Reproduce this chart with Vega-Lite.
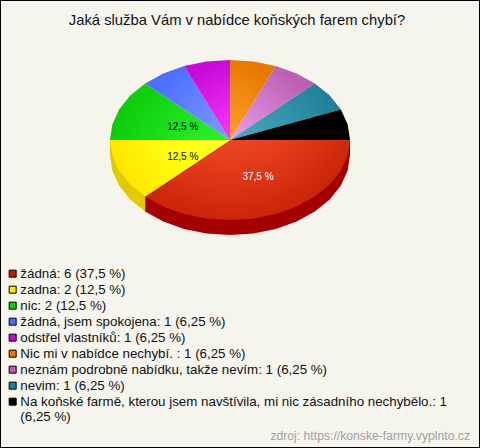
{"$schema":"https://vega.github.io/schema/vega-lite/v6.json","width":480,"height":448,"padding":0,"autosize":{"type":"none"},"background":"#f5f5ee","config":{"font":"Liberation Sans","view":{"stroke":"#000000","strokeWidth":2,"fill":"#f5f5ee"}},
"title":{"text":"Jaká služba Vám v nabídce koňských farem chybí?","fontSize":14.8,"fontWeight":"normal","font":"Liberation Sans","color":"#111111","anchor":"middle","dx":-3,"offset":-28},
"datasets":{
"slices":[{"label":"žádná: 6 (37,5 %)","count":6,"x":0,"y":0},{"label":"zadna: 2 (12,5 %)","count":2,"x":0,"y":0},{"label":"nic: 2 (12,5 %)","count":2,"x":0,"y":0},{"label":"žádná, jsem spokojena: 1 (6,25 %)","count":1,"x":0,"y":0},{"label":"odstřel vlastníků: 1 (6,25 %)","count":1,"x":0,"y":0},{"label":"Nic mi v nabídce nechybí. : 1 (6,25 %)","count":1,"x":0,"y":0},{"label":"neznám podrobně nabídku, takže nevím: 1 (6,25 %)","count":1,"x":0,"y":0},{"label":"nevim: 1 (6,25 %)","count":1,"x":0,"y":0},{"label":"Na koňské farmě, kterou jsem navštívila, mi nic zásadního nechybělo.: 1 (6,25 %)","count":1,"x":0,"y":0}],
"pctLabels":[{"text":"37,5 %","x":0.233,"y":0.46,"tone":"w"},{"text":"12,5 %","x":-0.394,"y":-0.16,"tone":"b"},{"text":"12,5 %","x":-0.394,"y":0.213,"tone":"b"}],
"source":[{"text":"zdroj: https://konske-farmy.vyplnto.cz","x":2.0,"y":3.7}],
"rimRed":[{"o":0,"x":1,"y":0},{"o":1,"x":1,"y":0.1875},{"o":2,"x":0.9808,"y":0.3826},{"o":3,"x":0.9239,"y":0.5702},{"o":4,"x":0.8315,"y":0.7431},{"o":5,"x":0.7071,"y":0.8946},{"o":6,"x":0.5556,"y":1.019},{"o":7,"x":0.3827,"y":1.1114},{"o":8,"x":0.1951,"y":1.1683},{"o":9,"x":0,"y":1.1875},{"o":10,"x":-0.1951,"y":1.1683},{"o":11,"x":-0.3827,"y":1.1114},{"o":12,"x":-0.5556,"y":1.019},{"o":13,"x":-0.7071,"y":0.8946},{"o":14,"x":-0.7071,"y":0.7071}],
"rimYellow":[{"o":0,"x":-0.7071,"y":0.7071},{"o":1,"x":-0.7071,"y":0.8946},{"o":2,"x":-0.8315,"y":0.7431},{"o":3,"x":-0.9239,"y":0.5702},{"o":4,"x":-0.9808,"y":0.3826},{"o":5,"x":-1,"y":0.1875},{"o":6,"x":-1,"y":0}],
"red":[{"o":0,"x":0,"y":0},{"o":1,"x":1,"y":0},{"o":2,"x":0.9808,"y":0.1951},{"o":3,"x":0.9239,"y":0.3827},{"o":4,"x":0.8315,"y":0.5556},{"o":5,"x":0.7071,"y":0.7071},{"o":6,"x":0.5556,"y":0.8315},{"o":7,"x":0.3827,"y":0.9239},{"o":8,"x":0.1951,"y":0.9808},{"o":9,"x":0,"y":1},{"o":10,"x":-0.1951,"y":0.9808},{"o":11,"x":-0.3827,"y":0.9239},{"o":12,"x":-0.5556,"y":0.8315},{"o":13,"x":-0.7071,"y":0.7071}],
"yellow":[{"o":0,"x":0,"y":0},{"o":1,"x":-0.7071,"y":0.7071},{"o":2,"x":-0.8315,"y":0.5556},{"o":3,"x":-0.9239,"y":0.3827},{"o":4,"x":-0.9808,"y":0.1951},{"o":5,"x":-1,"y":0}],
"green":[{"o":0,"x":0,"y":0},{"o":1,"x":-1,"y":0},{"o":2,"x":-0.9808,"y":-0.1951},{"o":3,"x":-0.9239,"y":-0.3827},{"o":4,"x":-0.8315,"y":-0.5556},{"o":5,"x":-0.7071,"y":-0.7071}],
"blue":[{"o":0,"x":0,"y":0},{"o":1,"x":-0.7071,"y":-0.7071},{"o":2,"x":-0.5556,"y":-0.8315},{"o":3,"x":-0.3827,"y":-0.9239}],
"magenta":[{"o":0,"x":0,"y":0},{"o":1,"x":-0.3827,"y":-0.9239},{"o":2,"x":-0.1951,"y":-0.9808},{"o":3,"x":0,"y":-1}],
"orange":[{"o":0,"x":0,"y":0},{"o":1,"x":0,"y":-1},{"o":2,"x":0.1951,"y":-0.9808},{"o":3,"x":0.3827,"y":-0.9239}],
"violet":[{"o":0,"x":0,"y":0},{"o":1,"x":0.3827,"y":-0.9239},{"o":2,"x":0.5556,"y":-0.8315},{"o":3,"x":0.7071,"y":-0.7071}],
"teal":[{"o":0,"x":0,"y":0},{"o":1,"x":0.7071,"y":-0.7071},{"o":2,"x":0.8315,"y":-0.5556},{"o":3,"x":0.9239,"y":-0.3827}],
"black":[{"o":0,"x":0,"y":0},{"o":1,"x":0.9239,"y":-0.3827},{"o":2,"x":0.9808,"y":-0.1951},{"o":3,"x":1,"y":0}]
},
"encoding":{
"x":{"field":"x","type":"quantitative","axis":null,"scale":{"domain":[-1.91667,2.08333],"nice":false,"zero":false}},
"y":{"field":"y","type":"quantitative","axis":null,"scale":{"domain":[-1.75,3.85],"nice":false,"zero":false,"reverse":true}}
},
"layer":[
{"data":{"name":"slices"},"mark":{"type":"point","filled":true,"shape":"square","opacity":0},"encoding":{"color":{"field":"label","type":"nominal","scale":{"domain":["žádná: 6 (37,5 %)","zadna: 2 (12,5 %)","nic: 2 (12,5 %)","žádná, jsem spokojena: 1 (6,25 %)","odstřel vlastníků: 1 (6,25 %)","Nic mi v nabídce nechybí. : 1 (6,25 %)","neznám podrobně nabídku, takže nevím: 1 (6,25 %)","nevim: 1 (6,25 %)","Na koňské farmě, kterou jsem navštívila, mi nic zásadního nechybělo.: 1 (6,25 %)"],"range":["#c41a00","#ffe600","#0ccb0c","#4d6eff","#c80ad8","#e87800","#bb5fb5","#1f7f96","#000000"]},"legend":{"orient":"none","legendX":6,"legendY":267,"title":null,"symbolType":"square","symbolSize":49,"symbolOpacity":1,"symbolStrokeColor":"#000000","symbolStrokeWidth":1,"labelFont":"Liberation Sans","labelFontSize":13.33,"labelColor":"#111111","labelLimit":470,"labelOffset":1,"rowPadding":2,"labelExpr":"indexof(datum.label,'nechybělo')>0 ? [substring(datum.label,0,indexof(datum.label,'(')-1), substring(datum.label,indexof(datum.label,'('))] : datum.label"}}}},
{"data":{"name":"rimRed"},"mark":{"type":"line","filled":true,"fill":"#a50000","stroke":null},"encoding":{"order":{"field":"o"}}},
{"data":{"name":"rimYellow"},"mark":{"type":"line","filled":true,"fill":"#e3c900","stroke":null},"encoding":{"order":{"field":"o"}}},
{"data":{"name":"red"},"mark":{"type":"line","filled":true,"stroke":null,"fill":{"gradient":"radial","x1":0.414,"y1":0,"r1":0,"x2":0.414,"y2":0,"r2":0.85,"stops":[{"offset":0,"color":"#ff5f40"},{"offset":0.5,"color":"#e43c1c"},{"offset":1,"color":"#bd1800"}]}},"encoding":{"order":{"field":"o"}}},
{"data":{"name":"yellow"},"mark":{"type":"line","filled":true,"stroke":null,"fill":{"gradient":"radial","x1":1,"y1":0,"r1":0,"x2":1,"y2":0,"r2":1.05,"stops":[{"offset":0,"color":"#ffff33"},{"offset":0.55,"color":"#ffff14"},{"offset":1,"color":"#ffe600"}]}},"encoding":{"order":{"field":"o"}}},
{"data":{"name":"green"},"mark":{"type":"line","filled":true,"stroke":null,"fill":{"gradient":"radial","x1":1,"y1":1,"r1":0,"x2":1,"y2":1,"r2":1.05,"stops":[{"offset":0,"color":"#33ff33"},{"offset":1,"color":"#0ccb0c"}]}},"encoding":{"order":{"field":"o"}}},
{"data":{"name":"blue"},"mark":{"type":"line","filled":true,"stroke":null,"fill":{"gradient":"radial","x1":1,"y1":1,"r1":0,"x2":1,"y2":1,"r2":1.1,"stops":[{"offset":0,"color":"#80a0ff"},{"offset":1,"color":"#4d6eff"}]}},"encoding":{"order":{"field":"o"}}},
{"data":{"name":"magenta"},"mark":{"type":"line","filled":true,"stroke":null,"fill":{"gradient":"radial","x1":1,"y1":1,"r1":0,"x2":1,"y2":1,"r2":1.05,"stops":[{"offset":0,"color":"#ff40ff"},{"offset":1,"color":"#c80ad8"}]}},"encoding":{"order":{"field":"o"}}},
{"data":{"name":"orange"},"mark":{"type":"line","filled":true,"stroke":null,"fill":{"gradient":"radial","x1":0,"y1":1,"r1":0,"x2":0,"y2":1,"r2":1.05,"stops":[{"offset":0,"color":"#ffa833"},{"offset":1,"color":"#e87800"}]}},"encoding":{"order":{"field":"o"}}},
{"data":{"name":"violet"},"mark":{"type":"line","filled":true,"stroke":null,"fill":{"gradient":"radial","x1":0,"y1":1,"r1":0,"x2":0,"y2":1,"r2":1.1,"stops":[{"offset":0,"color":"#eea0ee"},{"offset":1,"color":"#bb5fb5"}]}},"encoding":{"order":{"field":"o"}}},
{"data":{"name":"teal"},"mark":{"type":"line","filled":true,"stroke":null,"fill":{"gradient":"radial","x1":0,"y1":1,"r1":0,"x2":0,"y2":1,"r2":1.1,"stops":[{"offset":0,"color":"#52b5cc"},{"offset":1,"color":"#1f7f96"}]}},"encoding":{"order":{"field":"o"}}},
{"data":{"name":"black"},"mark":{"type":"line","filled":true,"stroke":null,"fill":"#000000"},"encoding":{"order":{"field":"o"}}},
{"data":{"name":"pctLabels"},"mark":{"type":"text","fontSize":10,"font":"Liberation Sans"},"encoding":{"text":{"field":"text"},"color":{"field":"tone","type":"nominal","scale":{"domain":["w","b"],"range":["#ffffff","#111111"]},"legend":null}}},
{"data":{"name":"source"},"mark":{"type":"text","fontSize":12.2,"font":"Liberation Sans","align":"right","color":"#a0a0a0"},"encoding":{"text":{"field":"text"}}}
],
"resolve":{"scale":{"color":"independent"}}
}
